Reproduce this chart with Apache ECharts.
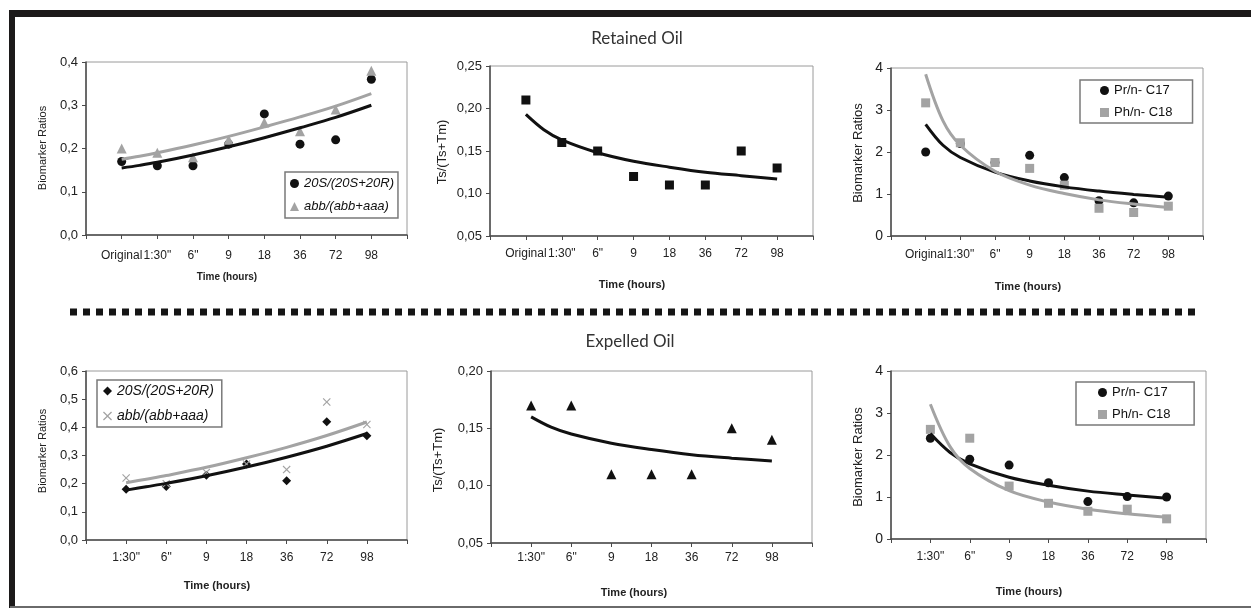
<!DOCTYPE html>
<html>
<head>
<meta charset="utf-8">
<script src="https://cdn.jsdelivr.net/npm/echarts@6/dist/echarts.min.js"></script>
<style>
  html, body { margin: 0; padding: 0; background: #fff; }
  #chart { width: 1251px; height: 609px; }
</style>
</head>
<body>
<div id="chart"></div>
<script>
// categories
const retainedTimes = ['Original', '1:30"', '6"', '9', '18', '36', '72', '98']
const expelledTimes = ['1:30"', '6"', '9', '18', '36', '72', '98']

// retained oil points
const retained20S = [0.17, 0.16, 0.16, 0.21, 0.28, 0.21, 0.22, 0.36]
const retainedAbb = [0.20, 0.19, 0.18, 0.22, 0.26, 0.24, 0.29, 0.38]
const retainedTs = [0.21, 0.16, 0.15, 0.12, 0.11, 0.11, 0.15, 0.13]
const retainedPr = [2.0, 2.2, 1.75, 1.92, 1.39, 0.84, 0.79, 0.95]
const retainedPh = [3.17, 2.22, 1.75, 1.61, 1.21, 0.66, 0.56, 0.71]

// expelled oil points
const expelled20S = [0.18, 0.19, 0.23, 0.27, 0.21, 0.42, 0.37]
const expelledAbb = [0.22, 0.20, 0.24, 0.27, 0.25, 0.49, 0.41]
const expelledTs = [0.17, 0.17, 0.11, 0.11, 0.11, 0.15, 0.14]
const expelledPr = [2.40, 1.90, 1.76, 1.34, 0.89, 1.01, 1.00]
const expelledPh = [2.61, 2.40, 1.26, 0.85, 0.66, 0.71, 0.48]

// trend lines at these positions
const trendPosRetained = [1, 1.5, 2, 3, 4, 5, 6, 7, 8]
const trendPosExpelled = [1, 1.5, 2, 3, 4, 5, 6, 7]
const trendRet20S = [0.155, 0.161, 0.168, 0.185, 0.204, 0.225, 0.248, 0.272, 0.300]
const trendRetAbb = [0.175, 0.182, 0.190, 0.208, 0.228, 0.250, 0.273, 0.298, 0.327]
const trendRetTs = [0.193, 0.175, 0.163, 0.148, 0.138, 0.131, 0.125, 0.121, 0.117]
const trendRetPr = [2.66, 2.16, 1.87, 1.52, 1.31, 1.17, 1.07, 0.99, 0.92]
const trendRetPh = [3.85, 2.74, 2.16, 1.54, 1.21, 1.01, 0.86, 0.76, 0.68]
const trendExp20S = [0.177, 0.189, 0.201, 0.228, 0.259, 0.294, 0.333, 0.378]
const trendExpAbb = [0.203, 0.216, 0.229, 0.258, 0.292, 0.329, 0.371, 0.419]
const trendExpTs = [0.160, 0.151, 0.145, 0.137, 0.1315, 0.127, 0.124, 0.1215]
const trendExpPr = [2.51, 2.06, 1.79, 1.47, 1.28, 1.14, 1.05, 0.97]
const trendExpPh = [3.21, 2.20, 1.68, 1.15, 0.88, 0.71, 0.60, 0.52]

const FONT = '"Liberation Sans", Arial, sans-serif'
const BLACK = '#111111'
const GRAY = '#a3a3a3'
const CROSS = 'path://M0,1L1,0L5,4L9,0L10,1L6,5L10,9L9,10L5,6L1,10L0,9L4,5Z'

// grid boxes [left, top, width, height]
const boxes = [
  [86, 62, 321, 173],
  [490, 66, 323, 170],
  [891, 68, 312, 168],
  [86, 371, 321, 169],
  [491, 371, 321, 172],
  [891, 371, 315, 168]
]

const grids = boxes.map(b => ({
  left: b[0], top: b[1], width: b[2], height: b[3],
  show: true, borderColor: '#9a9a9a', borderWidth: 1,
  containLabel: false, outerBoundsMode: 'none'
}))

function xAxisFor (i, labels, size, margin) {
  return {
    type: 'value', gridIndex: i, min: 0, max: labels.length + 1, interval: 1,
    axisLine: { show: true, onZero: false, lineStyle: { color: '#4a4a4a', width: 1.5 } },
    axisTick: { show: true, length: 4, lineStyle: { color: '#4a4a4a' } },
    splitLine: { show: false },
    axisLabel: {
      margin: margin, fontSize: size, color: '#222', fontFamily: FONT,
      formatter: v => labels[v - 1] || ''
    }
  }
}

function yAxisFor (i, min, max, step, digits, size) {
  return {
    type: 'value', gridIndex: i, min: min, max: max, interval: step,
    axisLine: { show: true, lineStyle: { color: '#4a4a4a', width: 1.5 } },
    axisTick: { show: true, length: 4, lineStyle: { color: '#4a4a4a' } },
    splitLine: { show: false },
    axisLabel: {
      margin: 8, fontSize: size, color: '#222', fontFamily: FONT,
      formatter: v => v.toFixed(digits).replace('.', ',')
    }
  }
}

function points (name, i, values, symbol, color, size) {
  return {
    name: name, type: 'scatter', xAxisIndex: i, yAxisIndex: i,
    symbol: symbol, symbolSize: size,
    itemStyle: { color: color, opacity: 1 },
    data: values.map((v, k) => [k + 1, v])
  }
}

function trend (i, pos, values, color) {
  return {
    name: 'trend' + i + color, type: 'line', xAxisIndex: i, yAxisIndex: i,
    showSymbol: false, smooth: 0.35, z: 3,
    lineStyle: { color: color, width: 3 },
    data: values.map((v, k) => [pos[k], v])
  }
}

function legendAt (left, top, gap, pad, size, items, italic) {
  return {
    left: left, top: top, orient: 'vertical',
    borderColor: '#7a7a7a', borderWidth: 1.5, borderRadius: 0,
    padding: pad, itemGap: gap, itemWidth: 9, itemHeight: 9,
    textStyle: { fontSize: size, color: '#111', fontFamily: FONT, fontStyle: italic ? 'italic' : 'normal' },
    selectedMode: false,
    data: items
  }
}

function label (text, x, y, size, rotate, weight) {
  return {
    type: 'text', x: x, y: y, rotation: rotate ? Math.PI / 2 : 0,
    style: {
      text: text, fontSize: size, fontFamily: FONT, fill: '#222',
      fontWeight: weight || 'normal', align: 'center', verticalAlign: 'middle'
    }
  }
}

const chart = echarts.init(document.getElementById('chart'))

const option = {
  backgroundColor: '#ffffff',
  animation: false,
  grid: grids,
  xAxis: [
    xAxisFor(0, retainedTimes, 12, 15),
    xAxisFor(1, retainedTimes, 12, 12),
    xAxisFor(2, retainedTimes, 12, 13),
    xAxisFor(3, expelledTimes, 12, 12),
    xAxisFor(4, expelledTimes, 12, 9),
    xAxisFor(5, expelledTimes, 12, 12)
  ],
  yAxis: [
    yAxisFor(0, 0, 0.4, 0.1, 1, 13),
    yAxisFor(1, 0.05, 0.25, 0.05, 2, 13),
    yAxisFor(2, 0, 4, 1, 0, 14),
    yAxisFor(3, 0, 0.6, 0.1, 1, 13),
    yAxisFor(4, 0.05, 0.20, 0.05, 2, 13),
    yAxisFor(5, 0, 4, 1, 0, 14)
  ],
  legend: [
    legendAt(285, 172, 10, [5, 4, 5, 5], 13, [
      { name: '20S/(20S+20R)', icon: 'circle' },
      { name: 'abb/(abb+aaa)', icon: 'triangle' }
    ], true),
    legendAt(1080, 80, 9, [4, 20, 4, 20], 13, [
      { name: 'Pr/n- C17', icon: 'circle' },
      { name: 'Ph/n- C18', icon: 'rect' }
    ], false),
    legendAt(97, 380, 11, [4, 4, 4, 6], 14, [
      { name: '20S/(20S+20R) ', icon: 'diamond' },
      { name: 'abb/(abb+aaa) ', icon: CROSS }
    ], true),
    legendAt(1076, 382, 9, [4, 20, 4, 22], 13, [
      { name: 'Pr/n- C17 ', icon: 'circle' },
      { name: 'Ph/n- C18 ', icon: 'rect' }
    ], false)
  ],
  graphic: [
    // frame
    { type: 'rect', shape: { x: 10, y: 10, width: 1241, height: 7 }, style: { fill: '#1c1a1a' } },
    { type: 'rect', shape: { x: 9, y: 10, width: 6, height: 598 }, style: { fill: '#1c1a1a' } },
    { type: 'rect', shape: { x: 10, y: 606, width: 1241, height: 2 }, style: { fill: '#6a6a6a' } },
    // separator
    {
      type: 'line', shape: { x1: 70, y1: 312, x2: 1196, y2: 312 },
      style: { stroke: '#151515', lineWidth: 7, lineDash: [7, 6] }
    },
    // titles
    {
      type: 'text', x: 637, y: 39,
      style: { text: 'Retained Oil', fontSize: 17, fontFamily: 'Lato, sans-serif', fill: '#333', align: 'center', verticalAlign: 'middle' }
    },
    {
      type: 'text', x: 630, y: 342,
      style: { text: 'Expelled Oil', fontSize: 17, fontFamily: 'Lato, sans-serif', fill: '#333', align: 'center', verticalAlign: 'middle' }
    },
    // axis titles
    label('Biomarker Ratios', 43, 148, 11, true),
    label('Ts/(Ts+Tm)', 442, 152, 13, true),
    label('Biomarker Ratios', 858, 153, 13, true),
    label('Biomarker Ratios', 43, 451, 11, true),
    label('Ts/(Ts+Tm)', 438, 460, 13, true),
    label('Biomarker Ratios', 858, 457, 13, true),
    label('Time (hours)', 227, 277, 10, false, 'bold'),
    label('Time (hours)', 632, 285, 11, false, 'bold'),
    label('Time (hours)', 1028, 287, 11, false, 'bold'),
    label('Time (hours)', 217, 586, 11, false, 'bold'),
    label('Time (hours)', 634, 593, 11, false, 'bold'),
    label('Time (hours)', 1029, 592, 11, false, 'bold')
  ],
  series: [
    points('20S/(20S+20R)', 0, retained20S, 'circle', BLACK, 9),
    points('abb/(abb+aaa)', 0, retainedAbb, 'triangle', GRAY, 10),
    trend(0, trendPosRetained, trendRet20S, BLACK),
    trend(0, trendPosRetained, trendRetAbb, GRAY),

    points('Ts/(Ts+Tm) retained', 1, retainedTs, 'rect', BLACK, 9),
    trend(1, trendPosRetained, trendRetTs, BLACK),

    points('Pr/n- C17', 2, retainedPr, 'circle', BLACK, 9),
    points('Ph/n- C18', 2, retainedPh, 'rect', GRAY, 9),
    trend(2, trendPosRetained, trendRetPr, BLACK),
    trend(2, trendPosRetained, trendRetPh, GRAY),

    points('20S/(20S+20R) ', 3, expelled20S, 'diamond', BLACK, 9),
    points('abb/(abb+aaa) ', 3, expelledAbb, CROSS, GRAY, 8),
    trend(3, trendPosExpelled, trendExp20S, BLACK),
    trend(3, trendPosExpelled, trendExpAbb, GRAY),

    points('Ts/(Ts+Tm) expelled', 4, expelledTs, 'triangle', BLACK, 10),
    trend(4, trendPosExpelled, trendExpTs, BLACK),

    points('Pr/n- C17 ', 5, expelledPr, 'circle', BLACK, 9),
    points('Ph/n- C18 ', 5, expelledPh, 'rect', GRAY, 9),
    trend(5, trendPosExpelled, trendExpPr, BLACK),
    trend(5, trendPosExpelled, trendExpPh, GRAY)
  ]
}

chart.setOption(option)
</script>
</body>
</html>
